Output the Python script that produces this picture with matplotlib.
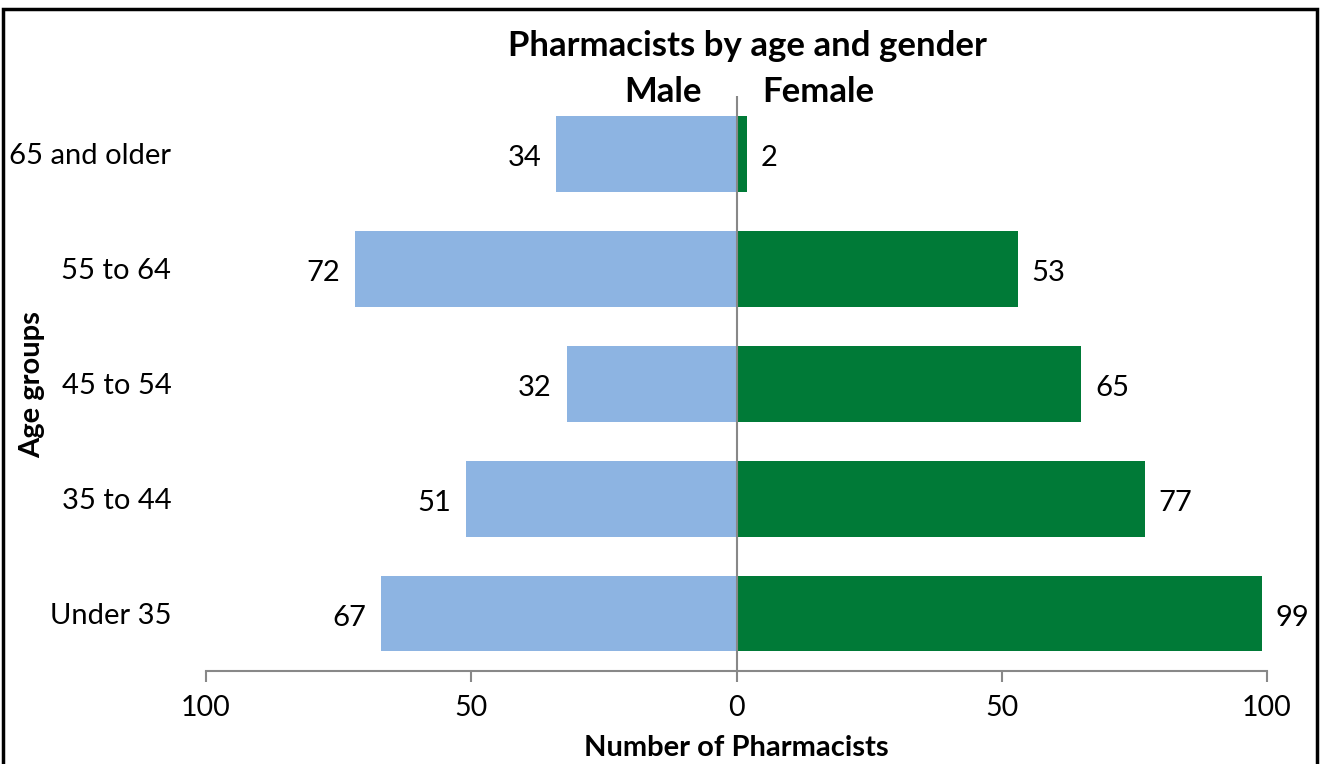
import matplotlib
matplotlib.use('Agg')
import matplotlib.pyplot as plt
from matplotlib.patches import Rectangle

plt.rcParams['font.family'] = ['Lato', 'DejaVu Sans']

# data
ages = ['Under 35', '35 to 44', '45 to 54', '55 to 64', '65 and older']
male = [67, 51, 32, 72, 34]
female = [99, 77, 65, 53, 2]
xticks = [-100, -50, 0, 50, 100]
xticklabels = ['100', '50', '0', '50', '100']

blue = '#8DB4E2'
green = '#007A37'

fig = plt.figure(figsize=(13.24, 7.64), dpi=100)
ax = fig.add_axes([0.1556, 0.1217, 0.8014, 0.752])

pos = list(range(len(ages)))
ax.barh(pos, [-m for m in male], height=0.66, color=blue)
ax.barh(pos, female, height=0.66, color=green)

# value labels, nudged a bit down like the original
for y, m, f in zip(pos, male, female):
    ax.text(-m - 2.8, y - 0.035, str(m), ha='right', va='center', fontsize=21)
    ax.text(f + 2.6, y - 0.035, str(f), ha='left', va='center', fontsize=21)

ax.axvline(0, color='#888888', lw=1.5)
ax.set_xlim(-100, 100)
ax.set_ylim(-0.5, 4.5)
ax.set_xticks(xticks)
ax.set_xticklabels(xticklabels, fontsize=20.5)
ax.set_yticks(pos)
ax.set_yticklabels(ages, fontsize=21)
ax.tick_params(axis='y', length=0, pad=25)
ax.tick_params(axis='x', direction='out', length=8, width=1.5, color='#888888', pad=9)
for s in ['top', 'right', 'left']:
    ax.spines[s].set_visible(False)
ax.spines['bottom'].set_color('#888888')
ax.spines['bottom'].set_linewidth(1.5)
ax.spines['bottom'].set_bounds(-100, 100)

ax.set_xlabel('Number of Pharmacists', fontsize=21, fontweight='bold', labelpad=10)
fig.text(0.024, 0.496, 'Age groups', rotation=90, ha='center', va='center',
         fontsize=21, fontweight='bold')

fig.text(0.5642, 0.94, 'Pharmacists by age and gender', ha='center', va='center',
         fontsize=25, fontweight='bold')
fig.text(0.53, 0.879, 'Male', ha='right', va='center', fontsize=25, fontweight='bold')
fig.text(0.576, 0.879, 'Female', ha='left', va='center', fontsize=25, fontweight='bold')

# chart border
fig.patches.append(Rectangle((0.0025, -0.05), 0.9925, 1.038, transform=fig.transFigure,
                             fill=False, edgecolor='black', lw=2.5))

fig.savefig('out.png', dpi=100)
